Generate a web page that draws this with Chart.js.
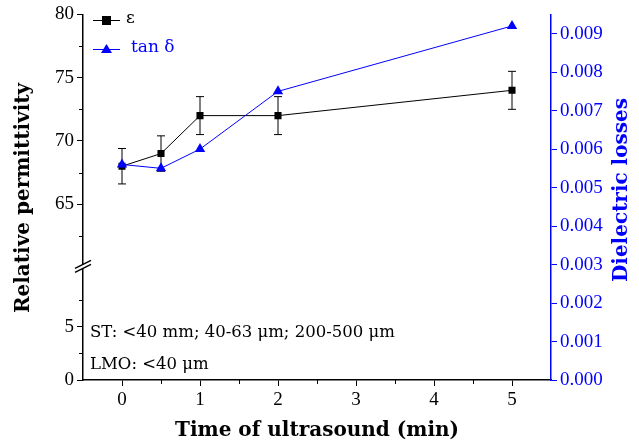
<!DOCTYPE html>
<html>
<head>
<meta charset="utf-8">
<script src="https://cdn.jsdelivr.net/npm/chart.js@4"></script>
<style>
  html, body { margin: 0; padding: 0; background: #fff; }
  #wrap { width: 639px; height: 445px; }
</style>
</head>
<body>
<div id="wrap"><canvas id="chart" width="639" height="445"></canvas></div>
<script>
const times = [0, 0.5, 1, 2, 5];
const permittivity = [68, 69, 72, 72, 74];
const permittivityErr = [1.4, 1.4, 1.5, 1.5, 1.5];
const tanDelta = [0.0056, 0.0055, 0.0060, 0.0075, 0.0092];
const xTicks = [0, 1, 2, 3, 4, 5];
const upperTicks = [65, 70, 75, 80];
const lowerTicks = [0, 5];
const rightTicks = [0, 0.001, 0.002, 0.003, 0.004, 0.005, 0.006, 0.007, 0.008, 0.009];

const FONT = "'Liberation Serif', serif";
const TEXT_FONT = "'DejaVu Serif', serif";
const BLUE = "#0000ff";

const pairs = (ys) => times.map((t, i) => ({ x: t, y: ys[i] }));

// error bars, minor ticks, axis break, legend and titles
const extras = {
    id: "extras",
    beforeDatasetsDraw(chart) {
        const c = chart.ctx;
        const x = chart.scales.x, y = chart.scales.yTop;
        c.save();
        c.strokeStyle = "#000";
        c.lineWidth = 1;
        times.forEach((t, i) => {
            const px = x.getPixelForValue(t);
            const hi = y.getPixelForValue(permittivity[i] + permittivityErr[i]);
            const lo = y.getPixelForValue(permittivity[i] - permittivityErr[i]);
            c.beginPath();
            c.moveTo(px, hi); c.lineTo(px, lo);
            c.moveTo(px - 4, hi); c.lineTo(px + 4, hi);
            c.moveTo(px - 4, lo); c.lineTo(px + 4, lo);
            c.stroke();
        });
        c.restore();
    },
    afterDraw(chart) {
        const c = chart.ctx;
        const a = chart.chartArea;
        const x = chart.scales.x, yt = chart.scales.yTop, yb = chart.scales.yLow;
        c.save();
        c.strokeStyle = "#000";
        c.lineWidth = 1;
        // minor ticks
        c.beginPath();
        [0.5, 1.5, 2.5, 3.5, 4.5].forEach((v) => {
            const px = Math.round(x.getPixelForValue(v)) + 0.5;
            c.moveTo(px, a.bottom); c.lineTo(px, a.bottom + 4);
        });
        [62.5, 67.5, 72.5, 77.5].forEach((v) => {
            const py = Math.round(yt.getPixelForValue(v)) + 0.5;
            c.moveTo(a.left, py); c.lineTo(a.left - 4, py);
        });
        [2.5, 7.5].forEach((v) => {
            const py = Math.round(yb.getPixelForValue(v)) + 0.5;
            c.moveTo(a.left, py); c.lineTo(a.left - 4, py);
        });
        c.stroke();
        // axis break
        const by = yt.bottom;
        c.fillStyle = "#fff";
        c.beginPath();
        c.moveTo(a.left - 8, by + 5); c.lineTo(a.left + 8, by - 3);
        c.lineTo(a.left + 8, by - 7); c.lineTo(a.left - 8, by + 1);
        c.closePath(); c.fill();
        c.lineWidth = 1.5;
        c.beginPath();
        c.moveTo(a.left - 8, by + 5); c.lineTo(a.left + 8, by - 3);
        c.moveTo(a.left - 8, by + 1); c.lineTo(a.left + 8, by - 7);
        c.stroke();
        // legend
        c.lineWidth = 1;
        c.beginPath(); c.moveTo(93, 20.5); c.lineTo(120, 20.5); c.stroke();
        c.fillStyle = "#000";
        c.fillRect(102, 16, 9, 9);
        c.font = "17px " + TEXT_FONT;
        c.textBaseline = "middle";
        c.fillText("ε", 126, 19);
        c.strokeStyle = BLUE; c.fillStyle = BLUE;
        c.beginPath(); c.moveTo(93, 49.5); c.lineTo(120, 49.5); c.stroke();
        c.beginPath(); c.moveTo(106.5, 44); c.lineTo(112, 53); c.lineTo(101, 53); c.closePath(); c.fill();
        c.fillText("tan δ", 131, 48);
        // annotation
        c.fillStyle = "#000";
        c.font = "16.5px " + TEXT_FONT;
        c.textBaseline = "middle";
        c.fillText("ST: <40 mm; 40-63 μm; 200-500 μm", 90, 333);
        c.fillText("LMO: <40 μm", 90, 365);
        // titles
        c.font = "bold 20px " + TEXT_FONT;
        c.textAlign = "center";
        c.fillText("Time of ultrasound (min)", 317, 431);
        c.save();
        c.translate(24, 198); c.rotate(-Math.PI / 2);
        c.fillText("Relative permittivity", 0, 0);
        c.restore();
        c.save();
        c.fillStyle = BLUE;
        c.translate(622, 190); c.rotate(-Math.PI / 2);
        c.fillText("Dielectric losses", 0, 0);
        c.restore();
        c.restore();
    }
};

const tickFont = { family: FONT, size: 19 };

new Chart(document.getElementById("chart").getContext("2d"), {
    type: "line",
    data: {
        datasets: [
            {
                label: "tan δ",
                data: pairs(tanDelta),
                yAxisID: "y2",
                borderColor: BLUE,
                backgroundColor: BLUE,
                borderWidth: 1,
                pointStyle: "triangle",
                pointRadius: 6,
                pointBorderWidth: 0,
                order: 0,
            },
            {
                label: "ε",
                data: pairs(permittivity),
                yAxisID: "yTop",
                borderColor: "#000",
                backgroundColor: "#000",
                borderWidth: 1,
                pointStyle: "rect",
                pointRadius: 5,
                pointBorderWidth: 0,
                order: 1,
            },
        ],
    },
    options: {
        responsive: false,
        animation: false,
        layout: { padding: { top: 13, left: 0, right: 0, bottom: 0 } },
        plugins: { legend: { display: false }, tooltip: { enabled: false } },
        scales: {
            x: {
                type: "linear",
                min: -0.5,
                max: 5.5,
                afterBuildTicks: (s) => { s.ticks = xTicks.map((v) => ({ value: v })); },
                afterFit: (s) => { s.height = 65; },
                grid: { drawOnChartArea: false, tickLength: 6, tickColor: "#000" },
                border: { color: "#000", width: 1.5 },
                ticks: { color: "#000", font: tickFont, padding: 3 },
            },
            yLow: {
                type: "linear",
                position: "left",
                stack: "left",
                stackWeight: 113,
                min: 0,
                max: 10.6,
                afterBuildTicks: (s) => { s.ticks = lowerTicks.map((v) => ({ value: v })); },
                afterFit: (s) => { s.width = 83; },
                grid: { drawOnChartArea: false, tickLength: 6, tickColor: "#000" },
                border: { color: "#000", width: 1.5 },
                ticks: { color: "#000", font: tickFont, padding: 3 },
            },
            yTop: {
                type: "linear",
                position: "left",
                stack: "left",
                stackWeight: 254,
                min: 60,
                max: 80,
                afterBuildTicks: (s) => { s.ticks = upperTicks.map((v) => ({ value: v })); },
                afterFit: (s) => { s.width = 83; },
                grid: { drawOnChartArea: false, tickLength: 6, tickColor: "#000" },
                border: { color: "#000", width: 1.5 },
                ticks: { color: "#000", font: tickFont, padding: 3 },
            },
            y2: {
                type: "linear",
                position: "right",
                min: 0,
                max: 0.0095,
                afterBuildTicks: (s) => { s.ticks = rightTicks.map((v) => ({ value: v })); },
                afterFit: (s) => { s.width = 88; },
                grid: { drawOnChartArea: false, tickLength: 6, tickColor: BLUE },
                border: { color: BLUE, width: 1.5 },
                ticks: {
                    color: BLUE,
                    font: tickFont,
                    padding: 3,
                    callback: (v) => v.toFixed(3),
                },
            },
        },
    },
    plugins: [extras],
});
</script>
</body>
</html>
